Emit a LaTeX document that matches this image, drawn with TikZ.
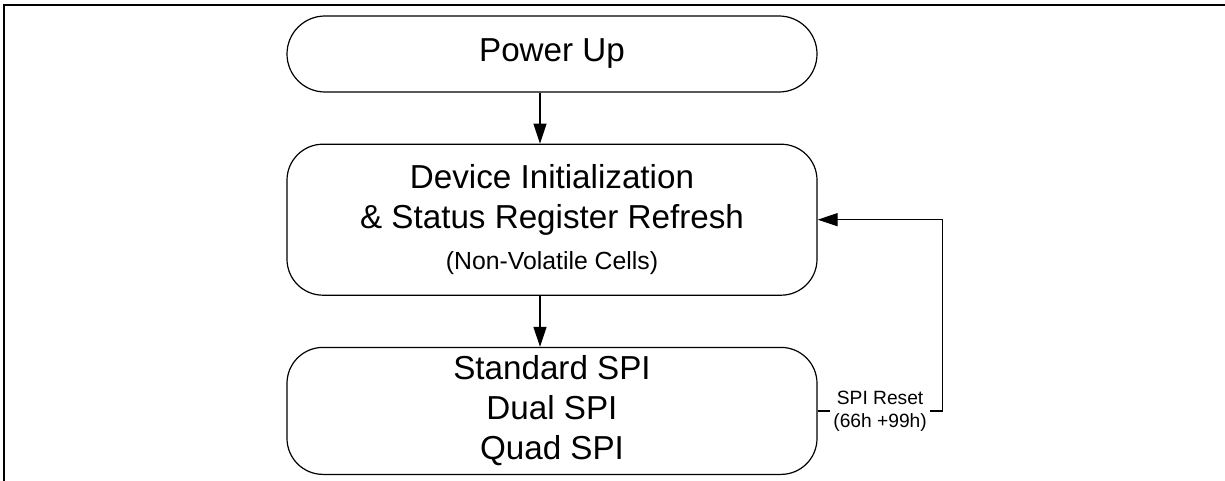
\documentclass[tikz,border=0pt]{standalone}
\usepackage{fontspec}
\setmainfont{Liberation Sans}
\usetikzlibrary{positioning}
\usetikzlibrary{arrows.meta}

\begin{document}
\begin{tikzpicture}[x=0.5pt,y=-0.5pt,>={Triangle[length=10pt,width=6.5pt]},
	node distance=25.5pt,line width=0.6pt,
	stepbox/.style={draw,rounded corners=18pt,minimum width=265pt,align=center,
		font=\fontsize{16.6}{20}\selectfont},
	note/.style={fill=white,inner sep=1.75pt,align=center,
		font=\fontsize{9.6}{11.5}\selectfont}]
	
	\useasboundingbox (0,0) rectangle (1225,481);
	\draw[line width=1pt] (4,481) -- (4,5) -- (1225,5);
	
	\node[stepbox,minimum height=38pt,rounded corners=19pt] (pwr) at (552,54) {Power Up};
	\node[stepbox,minimum height=75.5pt] (init) [below=of pwr] {Device Initialization\\ \& Status Register Refresh\\[0.8pt] {\fontsize{12.4}{15}\selectfont (Non-Volatile Cells)}};
	\node[stepbox,minimum height=63.5pt] (spi) [below=of init] {Standard SPI\\ Dual SPI\\ Quad SPI};
	
	\draw[->] ([xshift=-6pt]pwr.south) -- ([xshift=-6pt]init.north);
	\draw[->] ([xshift=-6pt]init.south) -- ([xshift=-6pt]spi.north);
	\draw[->] (spi.east) -- node[note] {SPI Reset\\(66h +99h)} ++(62.5pt,0) |- (init.east);
\end{tikzpicture}
\end{document}
